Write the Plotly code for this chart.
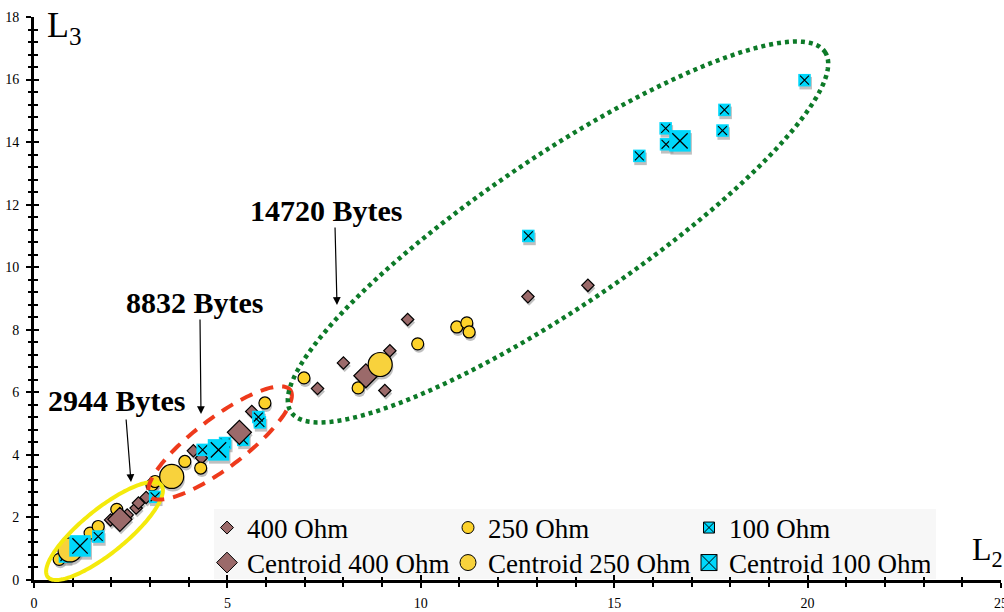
import numpy as np
import plotly.graph_objects as go

# ---------------- data ----------------
x400 = [1.98, 2.41, 2.64, 2.70, 2.90, 4.12, 4.33, 5.63, 7.33, 8.00, 9.07, 9.20, 9.66, 12.77, 14.32]
y400 = [1.92, 2.08, 2.30, 2.46, 2.64, 4.13, 3.90, 5.39, 6.12, 6.94, 6.06, 7.33, 8.33, 9.06, 9.42]
x250 = [0.65, 1.45, 1.66, 2.14, 3.05, 3.13, 3.90, 4.31, 5.97, 6.98, 8.38, 9.92, 10.93, 11.19, 11.25]
y250 = [0.66, 1.50, 1.71, 2.26, 3.04, 3.15, 3.79, 3.58, 5.66, 6.46, 6.14, 7.55, 8.09, 8.22, 7.93]
x100 = [0.80, 1.66, 3.13, 4.36, 4.94, 5.41, 5.80, 5.84, 12.78, 15.65, 16.33, 16.34, 17.80, 17.85, 19.92]
y100 = [0.75, 1.39, 2.66, 4.16, 4.38, 4.48, 5.21, 5.04, 11.00, 13.56, 14.44, 13.93, 14.37, 15.03, 15.98]
cen400_x = [2.22, 5.31, 8.58]
cen400_y = [1.94, 4.72, 6.53]
cen250_x = [0.93, 3.56, 8.95]
cen250_y = [0.96, 3.31, 6.89]
cen100_x = [1.19, 4.77, 16.70]
cen100_y = [1.09, 4.16, 14.04]

series_names = ["400 Ohm", "250 Ohm", "100 Ohm",
                "Centroid 400 Ohm", "Centroid 250 Ohm", "Centroid 100 Ohm"]
group_labels = ["2944 Bytes", "8832 Bytes", "14720 Bytes"]
x_range = [0, 25]
y_range = [0, 18]

# ---------------- styling ----------------
W, H = 1004, 612
ML, MR, MT, MB = 34, 3, 17, 32
PW, PH = W - ML - MR, H - MT - MB
FONT = "Liberation Serif, Times New Roman, serif"
C400 = "#9b6a6a"
C250 = "#fdd22a"
C250C = "#f8d23c"
C100 = "#00d7fb"
SHADOW = "rgba(140,140,140,0.55)"


def paper(px, py):
    return (px - ML) / PW, (H - MB - py) / PH


def ellipse_path(cx, cy, a, b, deg, n=180):
    t = np.linspace(0, 2 * np.pi, n, endpoint=False)
    th = np.radians(deg)
    ex = cx + a * np.cos(t) * np.cos(th) + b * np.sin(t) * np.sin(th)
    ey = cy - a * np.cos(t) * np.sin(th) + b * np.sin(t) * np.cos(th)
    pts = [paper(u, v) for u, v in zip(ex, ey)]
    return "M " + " L ".join(f"{u:.5f},{v:.5f}" for u, v in pts) + " Z"


fig = go.Figure()

# shadows (on the slightly shifted base axes)
shadow_sets = [
    (x400, y400, "diamond", 9.5),
    (x250, y250, "circle", 12),
    (x100, y100, "square", 12.5),
    (cen400_x, cen400_y, "diamond", 18.5),
    (cen250_x, cen250_y, "circle", 24),
    (cen100_x, cen100_y, "square", 21.5),
]
for xs, ys, sym, sz in shadow_sets:
    fig.add_trace(go.Scatter(x=xs, y=ys, mode="markers", xaxis="x", yaxis="y",
                             marker=dict(symbol=sym, size=sz, color=SHADOW, line=dict(width=0)),
                             showlegend=False, hoverinfo="skip"))


def add_points(xs, ys, kind, big):
    if kind == "400":
        fig.add_trace(go.Scatter(x=xs, y=ys, mode="markers", xaxis="x2", yaxis="y2",
                                 marker=dict(symbol="diamond", size=18.5 if big else 9.5, color=C400,
                                             line=dict(color="black", width=1.2)),
                                 showlegend=False))
    elif kind == "250":
        fig.add_trace(go.Scatter(x=xs, y=ys, mode="markers", xaxis="x2", yaxis="y2",
                                 marker=dict(symbol="circle", size=24 if big else 12,
                                             color=C250C if big else C250,
                                             line=dict(color="black", width=1.2)),
                                 showlegend=False))
    else:
        s = 21.5 if big else 12.5
        fig.add_trace(go.Scatter(x=xs, y=ys, mode="markers", xaxis="x2", yaxis="y2",
                                 marker=dict(symbol="square", size=s, color=C100, line=dict(width=0)),
                                 showlegend=False))
        fig.add_trace(go.Scatter(x=xs, y=ys, mode="markers", xaxis="x2", yaxis="y2",
                                 marker=dict(symbol="x-thin-open", size=s / 1.4, color="black",
                                             line=dict(color="black", width=1.3 if big else 1.1)),
                                 showlegend=False))


add_points(x400, y400, "400", False)
add_points(x250, y250, "250", False)
add_points(x100, y100, "100", False)
add_points(cen400_x, cen400_y, "400", True)
add_points(cen250_x, cen250_y, "250", True)
add_points(cen100_x, cen100_y, "100", True)

# legend entries
legend_specs = [
    (series_names[0], "diamond", 10, C400, 1, "legend"),
    (series_names[1], "circle", 12, C250, 1, "legend"),
    (series_names[2], "square-x", 11, C100, 1, "legend"),
    (series_names[3], "diamond", 17, C400, 1, "legend2"),
    (series_names[4], "circle", 19, C250C, 1, "legend2"),
    (series_names[5], "square-x", 17, C100, 1, "legend2"),
]
for name, sym, sz, col, lw, lg in legend_specs:
    fig.add_trace(go.Scatter(x=[None], y=[None], mode="markers", xaxis="x2", yaxis="y2",
                             name=name, legend=lg,
                             marker=dict(symbol=sym, size=sz, color=col,
                                         line=dict(color="black", width=lw))))

# ---------------- shapes ----------------
shapes = []
lx0, ly0 = paper(214, 509)
lx1, ly1 = paper(936, 579)
shapes.append(dict(type="rect", xref="paper", yref="paper", x0=lx0, y0=ly1, x1=lx1, y1=ly0,
                   fillcolor="#f7f7f7", line=dict(width=0), layer="below"))
shapes.append(dict(type="path", xref="paper", yref="paper",
                   path=ellipse_path(104.5, 531, 73, 22, 39),
                   line=dict(color="#f4ea0c", width=4)))
shapes.append(dict(type="path", xref="paper", yref="paper",
                   path=ellipse_path(220, 443, 88, 25, 37),
                   line=dict(color="#ee3a1c", width=4, dash="13px,9px")))
shapes.append(dict(type="path", xref="paper", yref="paper",
                   path=ellipse_path(558, 232, 322, 75, 34),
                   line=dict(color="#0d7a28", width=4.5, dash="4px,4px")))

# ---------------- annotations ----------------
ann = []
for label, (tx, ty) in zip(group_labels, [(117, 400), (195, 302), (326, 210)]):
    px_, py_ = paper(tx, ty)
    ann.append(dict(text=f"<b>{label}</b>", x=px_, y=py_, xref="paper", yref="paper",
                    showarrow=False, font=dict(family=FONT, size=30, color="black"),
                    xanchor="center", yanchor="middle"))
for (hx, hy), (tx, ty) in [((131, 482), (126, 418)), ((201, 414), (200, 318)), ((337, 305), (335, 226))]:
    px_, py_ = paper(hx, hy)
    ann.append(dict(text="", x=px_, y=py_, xref="paper", yref="paper", showarrow=True,
                    ax=tx - hx, ay=ty - hy, arrowhead=2, arrowsize=1.3, arrowwidth=1.2,
                    arrowcolor="black", standoff=0, startstandoff=0))
px_, py_ = paper(45, 52)
ann.append(dict(text="L<sub>3</sub>", x=px_, y=py_, xref="paper", yref="paper", showarrow=False,
                xanchor="left", yanchor="bottom", font=dict(family=FONT, size=36, color="black")))
px_, py_ = paper(970, 574)
ann.append(dict(text="L<sub>2</sub>", x=px_, y=py_, xref="paper", yref="paper", showarrow=False,
                xanchor="left", yanchor="bottom", font=dict(family=FONT, size=32, color="black")))

# ---------------- axes ----------------
sx = 1.2 * (x_range[1] - x_range[0]) / PW
sy = 3.0 * (y_range[1] - y_range[0]) / PH
hidden = dict(showline=False, showgrid=False, zeroline=False, ticks="", showticklabels=False,
              automargin=False)
tickfont = dict(family=FONT, size=14, color="black")

layout = dict(
    width=W, height=H,
    margin=dict(l=ML, r=MR, t=MT, b=MB, pad=0, autoexpand=False),
    paper_bgcolor="white", plot_bgcolor="white",
    showlegend=True,
    xaxis=dict(range=[x_range[0] - sx, x_range[1] - sx], **hidden),
    yaxis=dict(range=[y_range[0] + sy, y_range[1] + sy], **hidden),
    xaxis2=dict(range=x_range, overlaying="x", anchor="y2", showline=True, linecolor="black",
                linewidth=3, ticks="outside", ticklen=5, tickwidth=2, tickcolor="black",
                tick0=0, dtick=5, showgrid=False, zeroline=False, tickfont=tickfont,
                ticklabelstandoff=3, ticklabeloverflow="allow", automargin=False,
                minor=dict(dtick=1, ticks="outside", ticklen=3.5, tickwidth=1.6, tickcolor="black",
                           showgrid=False)),
    yaxis2=dict(range=y_range, overlaying="y", anchor="x2", showline=True, linecolor="black",
                linewidth=3, ticks="outside", ticklen=5, tickwidth=2, tickcolor="black",
                tick0=0, dtick=2, showgrid=False, zeroline=False, tickfont=tickfont,
                ticklabelstandoff=4, ticklabeloverflow="allow", automargin=False,
                minor=dict(dtick=0.4, ticks="outside", ticklen=3.5, tickwidth=1.6, tickcolor="black",
                           showgrid=False)),
    xaxis3=dict(range=x_range, overlaying="x", anchor="y3", showline=False, ticks="inside",
                ticklen=5, tickwidth=2, tickcolor="black", tick0=0, dtick=5, showgrid=False,
                zeroline=False, showticklabels=False, automargin=False,
                minor=dict(dtick=1, ticks="inside", ticklen=3.5, tickwidth=1.6, tickcolor="black",
                           showgrid=False)),
    yaxis3=dict(range=y_range, overlaying="y", anchor="x3", showline=False, ticks="inside",
                ticklen=5, tickwidth=2, tickcolor="black", tick0=0, dtick=2, showgrid=False,
                zeroline=False, showticklabels=False, automargin=False,
                minor=dict(dtick=0.4, ticks="inside", ticklen=3.5, tickwidth=1.6, tickcolor="black",
                           showgrid=False)),
    legend=dict(orientation="h", x=paper(207, 0)[0], y=paper(0, 528)[1], xanchor="left",
                yanchor="middle", bgcolor="rgba(0,0,0,0)", entrywidth=196, entrywidthmode="pixels",
                font=dict(family=FONT, size=27, color="black"), itemwidth=30,
                tracegroupgap=0),
    legend2=dict(orientation="h", x=paper(207, 0)[0], y=paper(0, 563)[1], xanchor="left",
                 yanchor="middle", bgcolor="rgba(0,0,0,0)", entrywidth=196, entrywidthmode="pixels",
                 font=dict(family=FONT, size=27, color="black"), itemwidth=30,
                 tracegroupgap=0),
    shapes=shapes,
    annotations=ann,
)
fig.update_layout(**layout)
fig.add_trace(go.Scatter(x=[None], y=[None], xaxis="x3", yaxis="y3", showlegend=False,
                         mode="markers", hoverinfo="skip"))
fig.write_html("out.html", config={"displayModeBar": False},
               post_script="document.body.style.margin='0';")
